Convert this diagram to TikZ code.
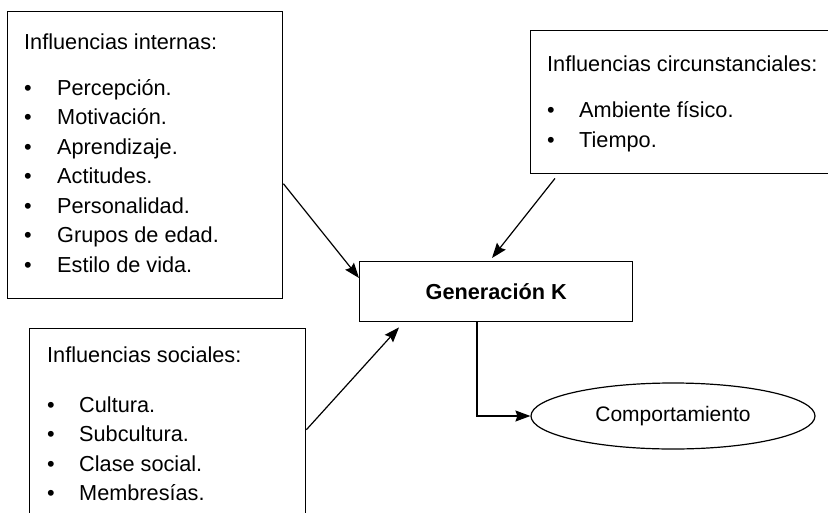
\documentclass[tikz,border=0pt]{standalone}
\usepackage{fontspec}
\setmainfont{Liberation Sans}
\usetikzlibrary{arrows.meta,shapes.geometric}

\tikzset{
  box/.style={draw=black, line width=1.4pt, anchor=north west, inner sep=0pt, fill=white},
  txt/.style={anchor=base west, inner sep=0pt, font=\fontsize{21.7}{26}\selectfont},
  dot/.style={anchor=base, inner sep=0pt, font=\fontsize{21.7}{26}\selectfont},
  link/.style={draw=black, line width=1.2pt, -{Stealth[length=15pt,width=11pt,inset=2pt]}},
}

\begin{document}
\begin{tikzpicture}[x=1pt, y=-1pt]
\useasboundingbox (0,0) rectangle (828,512);
\clip (0,0) rectangle (828,512);

% frames of the four boxes and the ellipse
\node[box, minimum width=275pt, minimum height=287pt] (int) at (7,11) {};
\node[box, minimum width=310pt, minimum height=143pt] (circ) at (530,30) {};
\node[box, minimum width=273pt, minimum height=60pt] (gen) at (359,261) {};
\node[box, minimum width=276pt, minimum height=202pt] (soc) at (29,328) {};
\node[draw=black, line width=1.2pt, ellipse, minimum width=284pt, minimum height=66pt, inner sep=0pt]
  (comp) at (673,416) {};

% internal influences
\node[txt] (inth) at (24,49) {Influencias internas:};
\foreach \t [count=\i from 0] in {Percepción., Motivación., Aprendizaje., Actitudes., Personalidad., Grupos de edad., Estilo de vida.}{
  \node[dot] (intb\i) at (28,95+29.5*\i) {•};
  \node[txt] (intt\i) at (57,95+29.5*\i) {\t};
}

% circumstantial influences
\node[txt] (circh) at (547,71) {Influencias circunstanciales:};
\foreach \t [count=\i from 0] in {Ambiente físico., Tiempo.}{
  \node[dot] (circb\i) at (551,117.6+30*\i) {•};
  \node[txt] (circt\i) at (579,117.6+30*\i) {\t};
}

% social influences
\node[txt] (soch) at (47,362) {Influencias sociales:};
\foreach \t [count=\i from 0] in {Cultura., Subcultura., Clase social., Membresías.}{
  \node[dot] (socb\i) at (51,412.5+29.3*\i) {•};
  \node[txt] (soct\i) at (79,412.5+29.3*\i) {\t};
}

% centre and outcome labels
\node[font=\fontsize{21.7}{26}\selectfont\bfseries, inner sep=0pt] (genl) at (gen.center) {Generación K};
\node[font=\fontsize{21}{26}\selectfont, inner sep=0pt] (compl) at (comp.center) {Comportamiento};

% connectors
\draw[link] ([yshift=-28.5pt]int.east) -- ([yshift=-17pt]gen.north west);
\draw[link] ([xshift=25pt,yshift=-4pt]circ.south west) -- ([xshift=133pt,yshift=3pt]gen.north west);
\draw[link] (soc.east) -- ([xshift=40pt,yshift=-5pt]gen.south west);
\draw[link] ([xshift=118pt]gen.south west) |- (comp.west);
\end{tikzpicture}
\end{document}
